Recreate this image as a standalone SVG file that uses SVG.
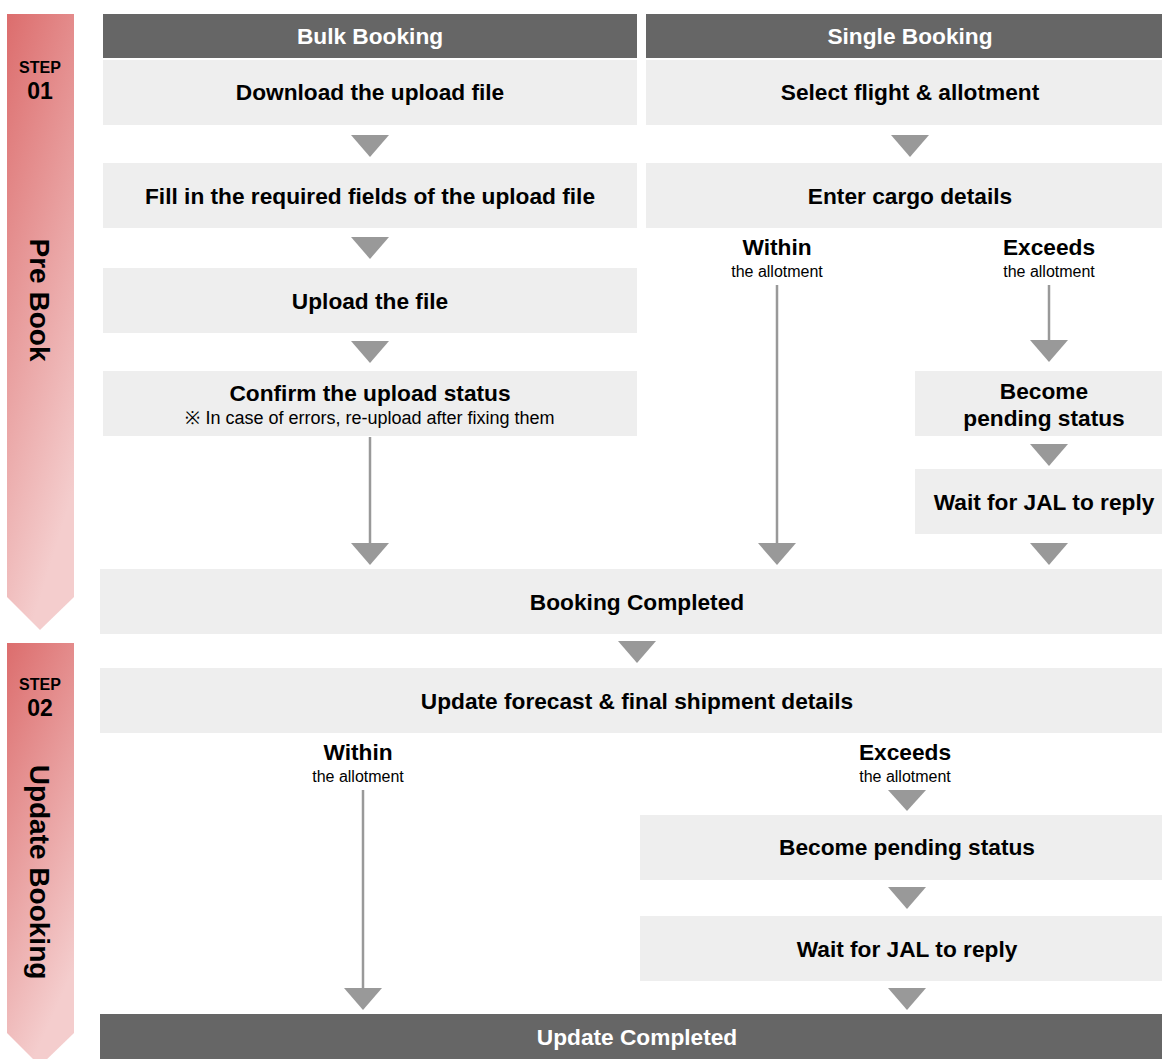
<svg xmlns="http://www.w3.org/2000/svg" width="1162" height="1059" viewBox="0 0 1162 1059">
<defs>
<linearGradient id="g1" x1="0" y1="0" x2="0.35" y2="1">
<stop offset="0" stop-color="#dc6d6d"/>
<stop offset="1" stop-color="#f4cdcd"/>
</linearGradient>
<style>
.hd{fill:#666666}
.bx{fill:#eeeeee}
.t{font-family:"Liberation Sans",Arial,sans-serif;font-weight:bold;font-size:22.7px;fill:#000;text-anchor:middle}
.tw{font-family:"Liberation Sans",Arial,sans-serif;font-weight:bold;font-size:22.7px;fill:#fff;text-anchor:middle}
.s{font-family:"Liberation Sans",Arial,sans-serif;font-size:16px;fill:#000;text-anchor:middle}
.n{font-family:"Liberation Sans",Arial,sans-serif;font-size:18px;fill:#000;text-anchor:middle}
.st{font-family:"Liberation Sans",Arial,sans-serif;font-weight:bold;font-size:16px;fill:#000;text-anchor:middle}
.sn{font-family:"Liberation Sans",Arial,sans-serif;font-weight:bold;font-size:23px;fill:#000;text-anchor:middle}
.sl{font-family:"Liberation Sans",Arial,sans-serif;font-weight:bold;font-size:28px;fill:#000;text-anchor:middle}
.ln{stroke:#999999;stroke-width:2.5;fill:none}
.ar{fill:#999999}
</style>
</defs>
<g id="step1">
<polygon points="7,14 74,14 74,597 40,630 7,597" fill="url(#g1)"/>
<text class="st" x="40" y="73">STEP</text>
<text class="sn" x="40" y="99">01</text>
<text class="sl" transform="translate(30,300) rotate(90)">Pre Book</text>
</g>
<g id="step2">
<polygon points="7,643 74,643 74,1033 40,1066 7,1033" fill="url(#g1)"/>
<text class="st" x="40" y="690">STEP</text>
<text class="sn" x="40" y="716">02</text>
<text class="sl" transform="translate(30,872) rotate(90)">Update Booking</text>
</g>
<g id="hdr-bulk"><rect class="hd" x="103" y="14" width="534" height="44"/><text class="tw" x="370" y="44">Bulk Booking</text></g>
<g id="hdr-single"><rect class="hd" x="646" y="14" width="516" height="44"/><text class="tw" x="910" y="44">Single Booking</text></g>
<g id="b1"><rect class="bx" x="103" y="60" width="534" height="65"/><text class="t" x="370" y="100">Download the upload file</text></g>
<g id="b2"><rect class="bx" x="103" y="163" width="534" height="65"/><text class="t" x="370" y="204">Fill in the required fields of the upload file</text></g>
<g id="b3"><rect class="bx" x="103" y="268" width="534" height="65"/><text class="t" x="370" y="309">Upload the file</text></g>
<g id="b4"><rect class="bx" x="103" y="371" width="534" height="65"/><text class="t" x="370" y="401">Confirm the upload status</text><text class="n" x="370" y="424">※ In case of errors, re-upload after fixing them</text></g>
<g id="s1"><rect class="bx" x="646" y="60" width="516" height="65"/><text class="t" x="910" y="100">Select flight &amp; allotment</text></g>
<g id="s2"><rect class="bx" x="646" y="163" width="516" height="65"/><text class="t" x="910" y="204">Enter cargo details</text></g>
<g id="lbl-within1"><text class="t" x="777" y="255">Within</text><text class="s" x="777" y="277">the allotment</text></g>
<g id="lbl-exceeds1"><text class="t" x="1049" y="255">Exceeds</text><text class="s" x="1049" y="277">the allotment</text></g>
<g id="s3"><rect class="bx" x="915" y="371" width="247" height="65"/><text class="t" x="1044" y="399">Become</text><text class="t" x="1044" y="426">pending status</text></g>
<g id="s4"><rect class="bx" x="915" y="469" width="247" height="65"/><text class="t" x="1044" y="510">Wait for JAL to reply</text></g>
<g id="done1"><rect class="bx" x="100" y="569" width="1062" height="65"/><text class="t" x="637" y="610">Booking Completed</text></g>
<g id="u1"><rect class="bx" x="100" y="668" width="1062" height="65"/><text class="t" x="637" y="709">Update forecast &amp; final shipment details</text></g>
<g id="lbl-within2"><text class="t" x="358" y="760">Within</text><text class="s" x="358" y="782">the allotment</text></g>
<g id="lbl-exceeds2"><text class="t" x="905" y="760">Exceeds</text><text class="s" x="905" y="782">the allotment</text></g>
<g id="u2"><rect class="bx" x="640" y="815" width="522" height="65"/><text class="t" x="907" y="855">Become pending status</text></g>
<g id="u3"><rect class="bx" x="640" y="916" width="522" height="65"/><text class="t" x="907" y="957">Wait for JAL to reply</text></g>
<g id="done2"><rect class="hd" x="100" y="1014" width="1062" height="45"/><text class="tw" x="637" y="1045">Update Completed</text></g>
<g id="connectors">
<polygon class="ar" points="351,135 389,135 370,157"/>
<polygon class="ar" points="351,237 389,237 370,259"/>
<polygon class="ar" points="351,341 389,341 370,363"/>
<line class="ln" x1="370" y1="437" x2="370" y2="545"/>
<polygon class="ar" points="351,543 389,543 370,565"/>
<polygon class="ar" points="891,135 929,135 910,157"/>
<line class="ln" x1="777" y1="285" x2="777" y2="545"/>
<polygon class="ar" points="758,543 796,543 777,565"/>
<line class="ln" x1="1049" y1="285" x2="1049" y2="342"/>
<polygon class="ar" points="1030,340 1068,340 1049,362"/>
<polygon class="ar" points="1030,444 1068,444 1049,466"/>
<polygon class="ar" points="1030,543 1068,543 1049,565"/>
<polygon class="ar" points="618,641 656,641 637,663"/>
<line class="ln" x1="363" y1="790" x2="363" y2="990"/>
<polygon class="ar" points="344,988 382,988 363,1010"/>
<polygon class="ar" points="888,790 926,790 907,811"/>
<polygon class="ar" points="888,887 926,887 907,909"/>
<polygon class="ar" points="888,988 926,988 907,1010"/>
</g>
</svg>
